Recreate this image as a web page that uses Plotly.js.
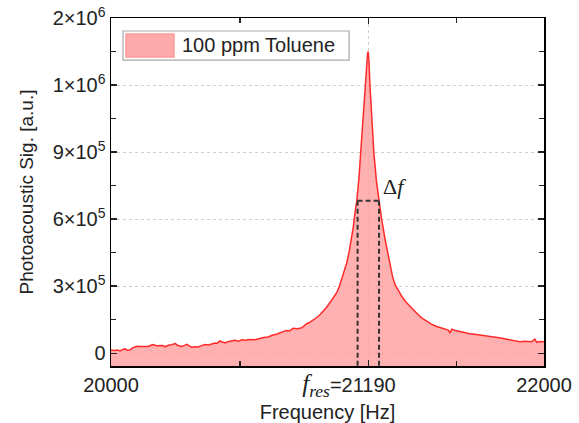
<!DOCTYPE html>
<html>
<head>
<meta charset="utf-8">
<script src="https://cdn.plot.ly/plotly-3.0.1.min.js"></script>
<style>html,body{margin:0;padding:0;background:#fff;}#chart{width:579px;height:423px;}</style>
</head>
<body>
<div id="chart"></div>
<script>
// Frequency axis (Hz)
const freq = [20000,20015,20030,20042,20055,20065,20075,20088,20100,20119,20135,20150,20171,20185,20194,20210,20226,20240,20249,20265,20280,20296,20310,20327,20340,20350,20362,20373,20388,20402,20418,20434,20450,20465,20480,20490,20503,20515,20527,20540,20555,20573,20590,20604,20620,20640,20665,20688,20705,20725,20748,20765,20780,20794,20810,20825,20841,20860,20881,20895,20904,20918,20933,20950,20965,20979,20995,21012,21028,21043,21055,21066,21078,21089,21100,21112,21120,21127,21135,21145,21153,21165,21176,21180,21185,21188,21192,21196,21205,21214,21226,21239,21250,21266,21278,21289,21300,21312,21328,21343,21360,21381,21400,21419,21438,21458,21480,21504,21530,21545,21558,21566,21574,21590,21612,21635,21658,21680,21704,21720,21740,21766,21785,21800,21828,21850,21870,21889,21910,21930,21943,21958,21966,21980,22000];
// Photoacoustic signal (a.u.)
const signal = [15000,12000,14000,10000,17000,20000,14000,15000,24000,31000,30000,31000,30000,36000,39000,34000,33000,35000,29000,36000,38000,43000,35000,30000,35000,40000,33000,27000,29000,28000,34000,39000,37000,42000,46000,44000,55000,50000,46000,52000,55000,58000,54000,60000,58000,62000,61000,67000,70000,73000,82000,85000,92000,97000,102000,100000,112000,110000,114000,125000,132000,138000,147000,160000,172000,187000,205000,228000,250000,272000,300000,332000,365000,405000,455000,515000,570000,630000,680000,780000,900000,1060000,1220000,1280000,1340000,1350000,1300000,1200000,1050000,900000,770000,676000,600000,510000,445000,390000,345000,307000,278000,255000,232000,210000,190000,172000,156000,142000,130000,120000,112000,108000,104000,90000,108000,102000,97000,92000,87000,85000,82000,80000,76000,75000,72000,68000,63000,60000,57000,52000,54000,51000,52000,63000,49000,53000,52000];

// Axis ranges / ticks
const xRange = [20000, 22000];
const yRange = [-57000, 1500000];
const fresLabel = '<span style="font-family:Liberation Serif;font-size:25px"><i>f</i><sub><i>res</i></sub></span>=';
const xTickVals = [20000, 21190, 22000];
const xTickText = ['20000',
  fresLabel + '21190<span style="color:rgba(0,0,0,0)">' + fresLabel + '</span>',
  '22000'];
const xMinorVals = [20595, 21595];
const yTickVals = [0, 300000, 600000, 900000, 1200000, 1500000];
const yTickText = ['0', '3×10<sup>5</sup>', '6×10<sup>5</sup>', '9×10<sup>5</sup>', '1×10<sup>6</sup>', '2×10<sup>6</sup>'];
const yMinorVals = [150000, 450000, 750000, 1050000, 1350000];

// FWHM markers
const halfMax = 682000;
const fLow = 21139;
const fHigh = 21238;

const seriesName = '100 ppm Toluene';

const baseline = {
  x: xRange, y: [yRange[0], yRange[0]], mode: 'lines',
  line: {width: 0}, showlegend: false, hoverinfo: 'skip'
};
const main = {
  x: freq, y: signal, mode: 'lines', name: seriesName,
  line: {color: '#ff2b2b', width: 1.5},
  fill: 'tonexty', fillcolor: 'rgba(255,155,155,0.78)',
  showlegend: false
};

const axisCommon = {
  showline: true, linecolor: '#000', linewidth: 1.5, mirror: 'ticks',
  ticks: 'inside', ticklen: 6, tickwidth: 1.5, tickcolor: '#222',
  tickfont: {family: 'Liberation Sans, Arial, sans-serif', size: 20, color: '#222'},
  showgrid: true, gridcolor: '#cfcfcf', griddash: 'dot', gridwidth: 1,
  zeroline: false
};

const dashStyle = {color: '#333', width: 2, dash: '5px,3px'};

const layout = {
  width: 579, height: 423,
  margin: {l: 111, r: 35, t: 18, b: 57},
  paper_bgcolor: '#fff', plot_bgcolor: '#fff',
  showlegend: false,
  xaxis: Object.assign({}, axisCommon, {
    range: xRange, tickmode: 'array', tickvals: xTickVals, ticktext: xTickText,
    minor: {tickmode: 'array', tickvals: xMinorVals, ticks: 'inside', ticklen: 5, tickwidth: 1.5, tickcolor: '#222', showgrid: false},
    title: {text: 'Frequency [Hz]', standoff: 2, font: {family: 'Liberation Sans, Arial, sans-serif', size: 20, color: '#222'}}
  }),
  yaxis: Object.assign({}, axisCommon, {
    range: yRange, tickmode: 'array', tickvals: yTickVals, ticktext: yTickText,
    minor: {tickmode: 'array', tickvals: yMinorVals, ticks: 'inside', ticklen: 5, tickwidth: 1.5, tickcolor: '#222', showgrid: false},
    title: {text: 'Photoacoustic Sig. [a.u.]', standoff: 14, font: {family: 'Liberation Sans, Arial, sans-serif', size: 19, color: '#222'}}
  }),
  shapes: [
    {type: 'line', xref: 'x', yref: 'y', x0: fLow, x1: fHigh, y0: halfMax, y1: halfMax, line: dashStyle},
    {type: 'line', xref: 'x', yref: 'y', x0: fLow, x1: fLow, y0: halfMax, y1: yRange[0], line: dashStyle},
    {type: 'line', xref: 'x', yref: 'y', x0: fHigh, x1: fHigh, y0: halfMax, y1: yRange[0], line: dashStyle},
    // legend box
    {type: 'rect', xref: 'paper', yref: 'paper', x0: 0.0277, x1: 0.55, y0: 0.879, y1: 0.9626, line: {color: '#aaa', width: 1.2}, fillcolor: '#fff'},
    {type: 'rect', xref: 'paper', yref: 'paper', x0: 0.0346, x1: 0.1455, y0: 0.888, y1: 0.954, line: {color: '#ff9a9a', width: 1.5}, fillcolor: '#ffaaaa'}
  ],
  annotations: [
    {xref: 'x', yref: 'y', x: fHigh, y: halfMax, xanchor: 'left', yanchor: 'middle', xshift: 2, yshift: 14,
     text: 'Δ<i>f</i>', showarrow: false, font: {family: 'Liberation Serif, serif', size: 22, color: '#222'}},
    {xref: 'paper', yref: 'paper', x: 0.159, y: 0.921, xanchor: 'left', yanchor: 'middle',
     text: seriesName, showarrow: false, font: {family: 'Liberation Sans, Arial, sans-serif', size: 20, color: '#222'}}
  ]
};

Plotly.newPlot('chart', [baseline, main], layout, {displayModeBar: false, staticPlot: true});
</script>
</body>
</html>
